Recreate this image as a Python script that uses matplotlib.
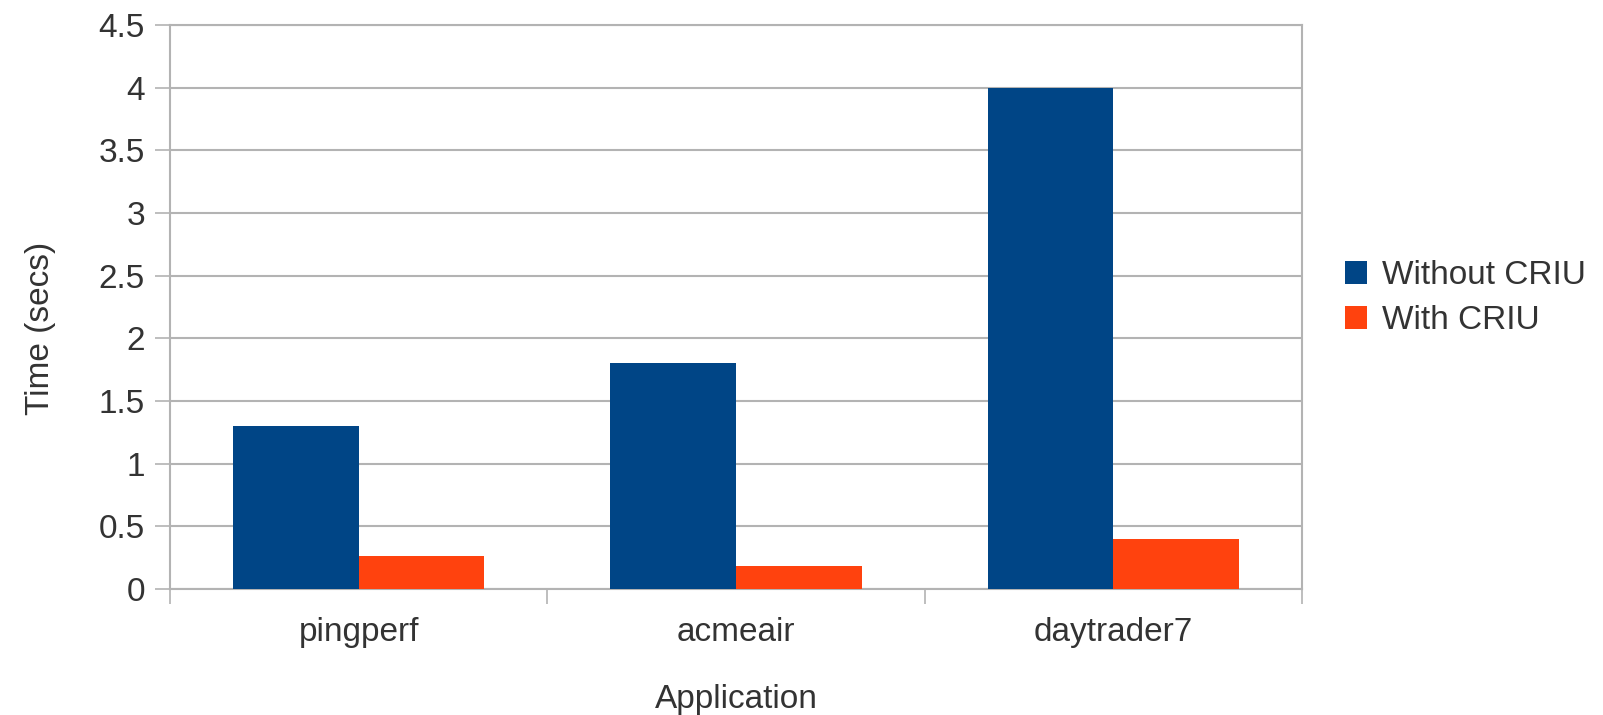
import numpy as np
import matplotlib.pyplot as plt

apps = ["pingperf", "acmeair", "daytrader7"]
without_criu = [1.3, 1.8, 4.0]
with_criu = [0.26, 0.18, 0.4]

plt.rcParams['font.family'] = ['Liberation Sans', 'DejaVu Sans']
text_col = "#333333"
grid_col = "#b3b3b3"
fs = 24

fig = plt.figure(figsize=(16.03, 7.15), dpi=100)
ax = fig.add_axes([0.1061, 0.1762, 0.7061, 0.7888])

x = np.arange(len(apps))
w = 1 / 3
ax.bar(x - w / 2, without_criu, w, color="#004586", label="Without CRIU", zorder=3)
ax.bar(x + w / 2, with_criu, w, color="#ff420e", label="With CRIU", zorder=3)

ax.set_xlim(-0.5, 2.5)
ax.set_ylim(0, 4.5)
ax.set_yticks(np.arange(0, 4.51, 0.5))
ax.set_yticklabels(["0", "0.5", "1", "1.5", "2", "2.5", "3", "3.5", "4", "4.5"])

# category ticks sit between groups, labels centred on groups
ax.set_xticks([-0.5, 0.5, 1.5, 2.5])
ax.set_xticklabels([])
ax.set_xticks(x, minor=True)
ax.set_xticklabels(apps, minor=True)
ax.tick_params(axis="x", which="minor", length=0, pad=20)
ax.tick_params(axis="x", which="major", length=11, width=1.2, color=grid_col)
ax.tick_params(axis="y", length=11, width=1.2, color=grid_col, pad=7)
ax.tick_params(labelsize=fs, labelcolor=text_col, which="both")

ax.yaxis.grid(True, color=grid_col, linewidth=1.5, zorder=0)
for s in ax.spines.values():
    s.set_color(grid_col)
    s.set_linewidth(1.5)

ax.set_ylabel("Time (secs)", fontsize=fs, color=text_col, labelpad=31, y=0.463)
ax.set_xlabel("Application", fontsize=fs, color=text_col, labelpad=26)

ax.legend(loc="center left", bbox_to_anchor=(0.839, 0.583), bbox_transform=fig.transFigure,
          frameon=False, fontsize=fs, labelcolor=text_col,
          handlelength=0.65, handleheight=0.7, handletextpad=0.45, labelspacing=0.42,
          borderaxespad=0, borderpad=0)

fig.savefig("out.png", dpi=100)
